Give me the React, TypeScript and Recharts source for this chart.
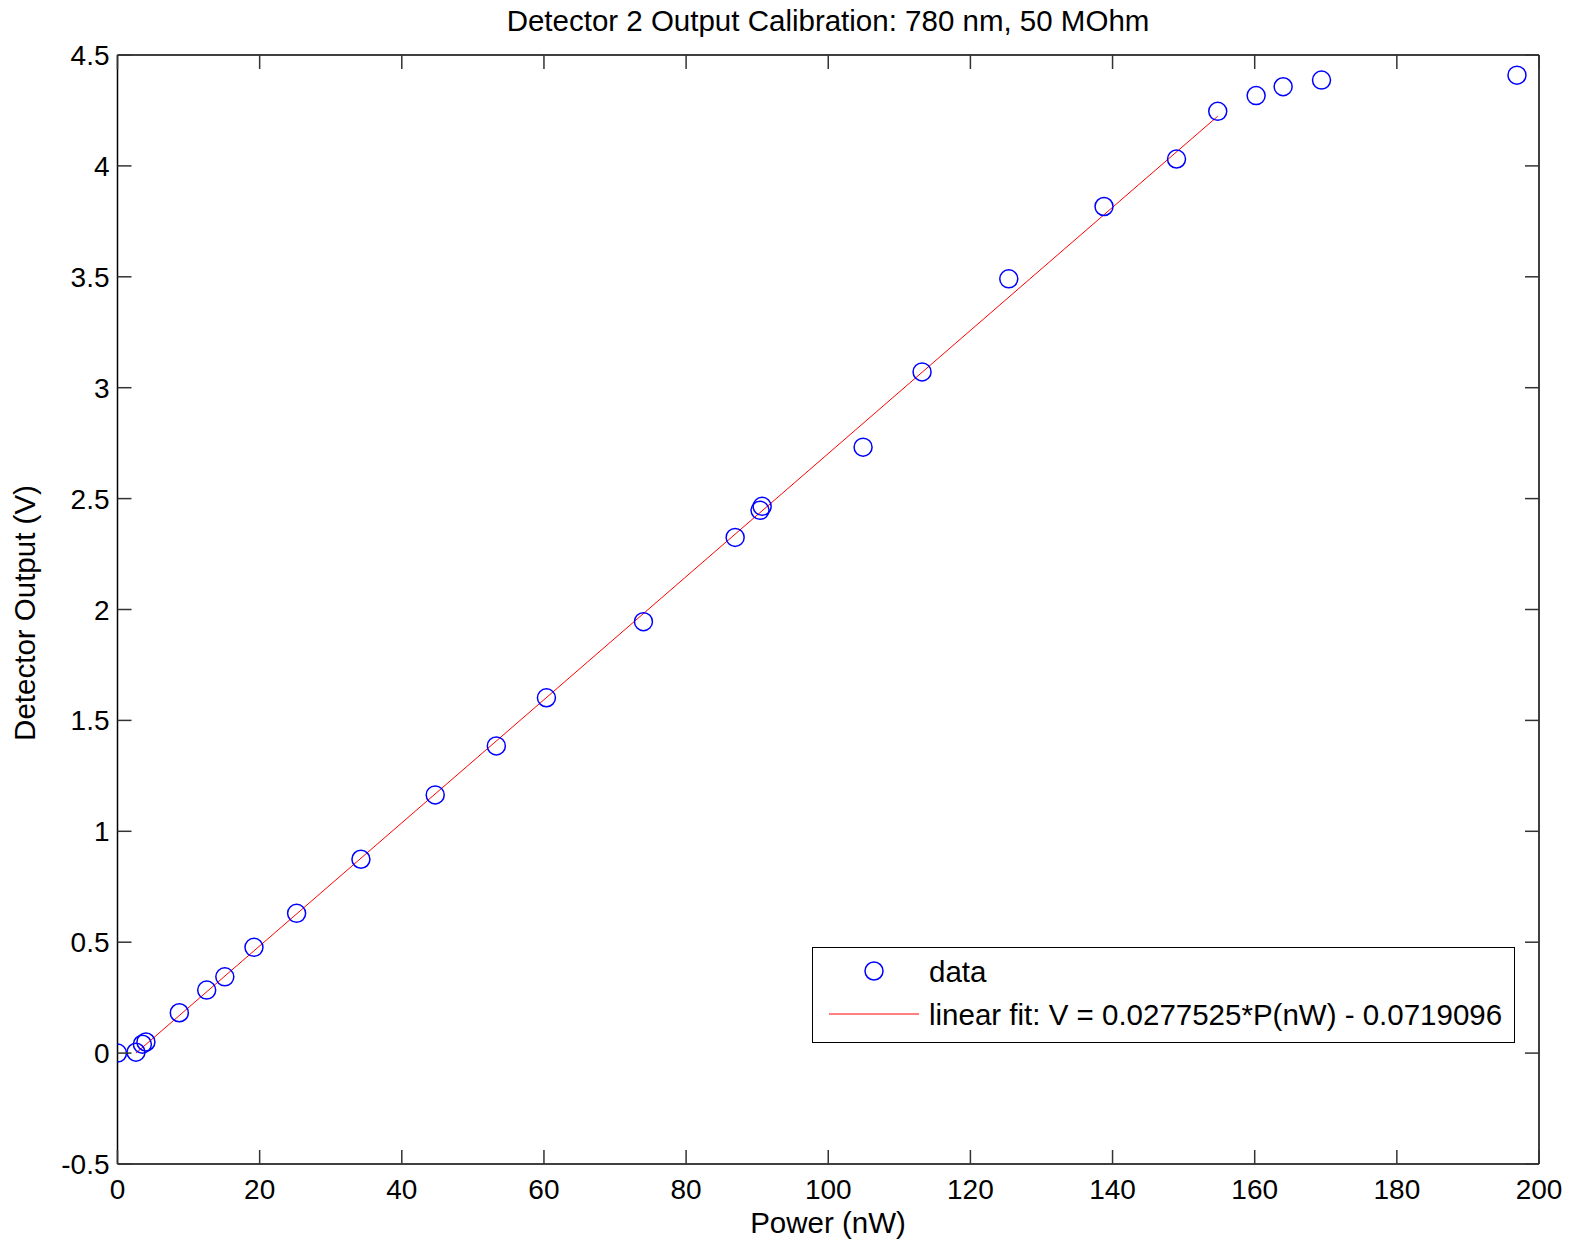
import React from 'react';
import { ScatterChart, Scatter, XAxis, YAxis, Legend } from 'recharts';

// measured points: power (nW) vs detector output (V)
const powerNW = [0, 2.6, 3.5, 4.0, 8.7, 12.55, 15.1, 19.2, 25.2, 34.25, 44.7, 53.3, 60.35, 74.0, 86.9, 90.4, 90.7, 104.9, 113.2, 125.4, 138.8, 149.0, 154.8, 160.2, 164.0, 169.4, 196.9];
const outputV = [0, 0.004, 0.04, 0.05, 0.182, 0.284, 0.344, 0.477, 0.63, 0.874, 1.164, 1.385, 1.602, 1.945, 2.325, 2.447, 2.465, 2.732, 3.071, 3.491, 3.817, 4.031, 4.246, 4.317, 4.357, 4.387, 4.409];

// linear fit endpoints
const fitP = [2.6, 154.8];
const fitV = [0.0003, 4.224];

const xTicks = [0, 20, 40, 60, 80, 100, 120, 140, 160, 180, 200];
const yTicks = [-0.5, 0, 0.5, 1, 1.5, 2, 2.5, 3, 3.5, 4, 4.5];

const points = powerNW.map((p, i) => ({ p, v: outputV[i] }));
const fitLine = fitP.map((p, i) => ({ p, v: fitV[i] }));

const FONT = '"Liberation Sans", Arial, sans-serif';
const TICK = '#333';
const TL = 14;
const LABEL_SIZE = 29.5;

const BottomTick = (props: any) => (
  <g>
    <line x1={props.x} y1={props.y} x2={props.x} y2={props.y - TL} stroke={TICK} strokeWidth={1.5} />
    <text x={props.x} y={props.y + 35} textAnchor="middle" fontSize={28} fontFamily={FONT} fill="#000">
      {props.payload.value}
    </text>
  </g>
);

const TopTick = (props: any) => (
  <line x1={props.x} y1={props.y} x2={props.x} y2={props.y + TL} stroke={TICK} strokeWidth={1.5} />
);

const LeftTick = (props: any) => (
  <g>
    <line x1={props.x} y1={props.y} x2={props.x + TL} y2={props.y} stroke={TICK} strokeWidth={1.5} />
    <text x={props.x - 8} y={props.y + 10} textAnchor="end" fontSize={28} fontFamily={FONT} fill="#000">
      {props.payload.value}
    </text>
  </g>
);

const RightTick = (props: any) => (
  <line x1={props.x} y1={props.y} x2={props.x - TL} y2={props.y} stroke={TICK} strokeWidth={1.5} />
);

const Ring = (props: any) => (
  <circle cx={props.cx} cy={props.cy} r={9} fill="none" stroke="#0000ff" strokeWidth={1.5} />
);

const NoShape = () => <g />;

const LegendBox = () => (
  <div
    style={{
      position: 'relative',
      width: 703,
      height: 96,
      boxSizing: 'border-box',
      border: '1.5px solid #000',
      background: '#fff',
      fontFamily: FONT,
      fontSize: LABEL_SIZE,
      color: '#000',
    }}
  >
    <svg width={120} height={96} style={{ position: 'absolute', left: 0, top: 0 }}>
      <circle cx={61} cy={23} r={9} fill="none" stroke="#0000ff" strokeWidth={1.5} />
      <line x1={16} y1={66} x2={106} y2={66} stroke="#ff0000" strokeWidth={1} />
    </svg>
    <div style={{ position: 'absolute', left: 116, top: 6, lineHeight: '36px' }}>data</div>
    <div style={{ position: 'absolute', left: 116, top: 49, lineHeight: '36px', whiteSpace: 'nowrap' }}>
      linear fit: V = 0.0277525*P(nW) - 0.0719096
    </div>
  </div>
);

export default function App() {
  return (
    <div style={{ position: 'absolute', left: 0, top: 0, width: 1572, height: 1248, background: '#fff', fontFamily: FONT }}>
      <div style={{ position: 'absolute', left: 0, width: 1656, top: 3, textAlign: 'center', fontSize: LABEL_SIZE, lineHeight: '36px' }}>
        Detector 2 Output Calibration: 780 nm, 50 MOhm
      </div>
      <div style={{ position: 'absolute', left: 0, width: 1656, top: 1205, textAlign: 'center', fontSize: LABEL_SIZE, lineHeight: '36px' }}>
        Power (nW)
      </div>
      <div
        style={{
          position: 'absolute',
          left: 25,
          top: 613,
          transform: 'translate(-50%, -50%) rotate(-90deg)',
          fontSize: LABEL_SIZE,
          lineHeight: '36px',
          whiteSpace: 'nowrap',
        }}
      >
        Detector Output (V)
      </div>
      <ScatterChart width={1572} height={1248} margin={{ top: 54, right: 32, bottom: 44, left: 57.5 }}>
        <XAxis
          type="number"
          dataKey="p"
          domain={[0, 200]}
          ticks={xTicks}
          interval={0}
          height={40}
          tickSize={0}
          tickMargin={0}
          tickLine={false}
          tick={BottomTick}
          axisLine={{ stroke: '#000', strokeWidth: 1.5 }}
          allowDataOverflow
        />
        <XAxis
          xAxisId="top"
          orientation="top"
          type="number"
          dataKey="p"
          domain={[0, 200]}
          ticks={xTicks}
          interval={0}
          height={1}
          tickSize={0}
          tickMargin={0}
          tickLine={false}
          tick={TopTick}
          axisLine={{ stroke: '#000', strokeWidth: 1.5 }}
          allowDataOverflow
        />
        <YAxis
          type="number"
          dataKey="v"
          domain={[-0.5, 4.5]}
          ticks={yTicks}
          interval={0}
          width={60}
          tickSize={0}
          tickMargin={0}
          tickLine={false}
          tick={LeftTick}
          axisLine={{ stroke: '#000', strokeWidth: 1.5 }}
          allowDataOverflow
        />
        <YAxis
          yAxisId="right"
          orientation="right"
          type="number"
          dataKey="v"
          domain={[-0.5, 4.5]}
          ticks={yTicks}
          interval={0}
          width={1}
          tickSize={0}
          tickMargin={0}
          tickLine={false}
          tick={RightTick}
          axisLine={{ stroke: '#000', strokeWidth: 1.5 }}
          allowDataOverflow
        />
        <Scatter
          name="linear fit"
          data={fitLine}
          xAxisId="top"
          yAxisId="right"
          line={{ stroke: '#ff0000', strokeWidth: 1 }}
          shape={NoShape}
          isAnimationActive={false}
        />
        <Scatter name="data" data={points} shape={Ring} isAnimationActive={false} />
        <Legend
          layout="horizontal"
          verticalAlign="middle"
          align="center"
          content={LegendBox}
          wrapperStyle={{ position: 'absolute', left: 812, top: 947, width: 703, height: 96 }}
        />
      </ScatterChart>
    </div>
  );
}
